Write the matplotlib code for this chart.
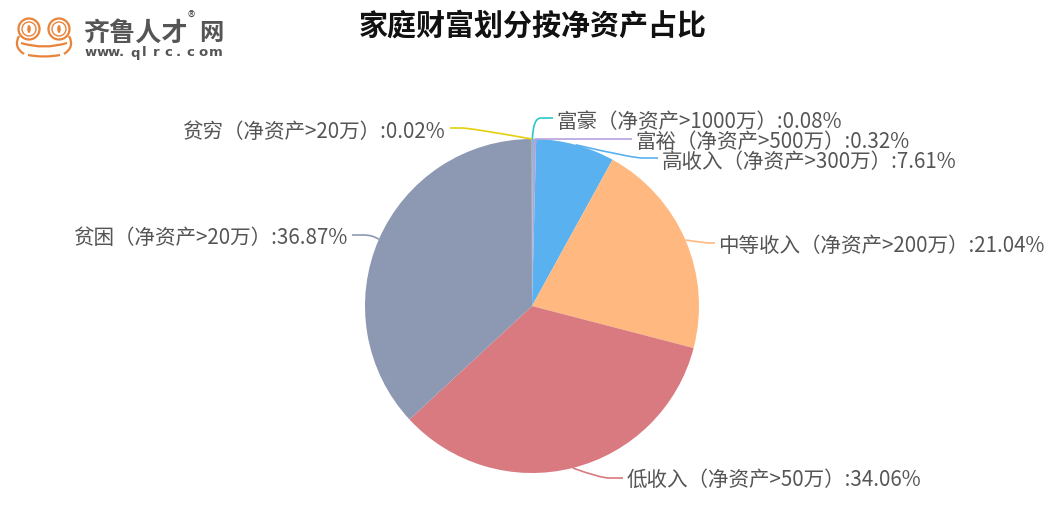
import numpy as np
import matplotlib
matplotlib.use('Agg')
import matplotlib.pyplot as plt
from matplotlib.patches import Circle, Ellipse, PathPatch
from matplotlib.path import Path

plt.rcParams['font.family'] = ['Noto Sans CJK SC', 'DejaVu Sans']

W, H = 1062, 522

# data, clockwise from 12 o'clock
labels = ['富豪（净资产>1000万）', '富裕（净资产>500万）', '高收入（净资产>300万）',
          '中等收入（净资产>200万）', '低收入（净资产>50万）', '贫困（净资产>20万）',
          '贫穷（净资产>20万）']
values = [0.08, 0.32, 7.61, 21.04, 34.06, 36.87, 0.02]
colors = ['#2EC7C9', '#B6A2DE', '#5AB1EF', '#FFB980', '#D87A80', '#8D98B3', '#E5CF0D']

# label text position (pixels, y down) and leader bend points
label_pos = [(556, 122, 'left'), (635, 142, 'left'), (662, 162, 'left'), (718, 246, 'left'),
             (627, 480, 'left'), (347, 238, 'right'), (445, 132, 'right')]
bends = [(533, 118), (600, 139), (632, 158), (705, 243), (600, 478), (372, 235), (470, 128)]
ends = [(553, 118), (632, 139), (658, 158), (715, 243), (623, 478), (352, 235), (450, 128)]

cx, cy, radius = 532, 306, 167

fig = plt.figure(figsize=(W / 100, H / 100), dpi=100, facecolor='white')
ax = fig.add_axes([0, 0, 1, 1])


def fy(y):
    return H - y


def curve(points, color, lw=1.2, z=3):
    (x0, y0), (x1, y1), (x2, y2) = points
    # straight run after the bend, corner smoothed
    mx = x1 + (x2 - x1) * 0.4
    my = y1 + (y2 - y1) * 0.4
    verts = [(x0, fy(y0)), (x1, fy(y1)), (mx, fy(my)), (x2, fy(y2))]
    codes = [Path.MOVETO, Path.CURVE3, Path.CURVE3, Path.LINETO]
    ax.add_patch(PathPatch(Path(verts, codes), fc='none', ec=color, lw=lw, zorder=z))


ax.pie(values, colors=colors, startangle=90, counterclock=False, center=(cx, fy(cy)),
       radius=radius, wedgeprops={'linewidth': 0, 'zorder': 2})
ax.set_xlim(0, W)
ax.set_ylim(0, H)
ax.set_aspect('equal')
ax.axis('off')

# leader lines and labels
total = sum(values)
start = 0
for name, val, col, pos, bend, end in zip(labels, values, colors, label_pos, bends, ends):
    mid = (start + val / 2) / total * 2 * np.pi
    start += val
    ax0 = cx + radius * np.sin(mid)
    ay0 = cy - radius * np.cos(mid)
    curve([(ax0, ay0), bend, end], col)
    ax.text(pos[0], fy(pos[1]), f'{name}:{val:.2f}%', ha=pos[2], va='center',
            fontsize=14.8, color='#555555', zorder=5)

ax.text(533, fy(26), '家庭财富划分按净资产占比', ha='center', va='center', fontsize=20.9,
        fontweight='bold', color='#111111')

# logo
orange = '#E8833A'
for ex in (29, 59):
    ax.add_patch(Circle((ex, fy(29)), 10.5, fc='white', ec=orange, lw=1.6, zorder=6))
    ax.add_patch(Circle((ex, fy(29)), 7, fc='white', ec=orange, lw=1.0, zorder=6))
    ax.add_patch(Ellipse((ex, fy(29)), 3.5, 8, fc=orange, ec='none', zorder=7))
head_left = Path([(19, fy(36)), (13, fy(47)), (24, fy(54))], [Path.MOVETO, Path.CURVE3, Path.CURVE3])
head_right = Path([(69, fy(36)), (75, fy(47)), (64, fy(54))], [Path.MOVETO, Path.CURVE3, Path.CURVE3])
chin = Path([(28, fy(55)), (44, fy(58)), (60, fy(55))], [Path.MOVETO, Path.CURVE3, Path.CURVE3])
smile = Path([(21, fy(43)), (44, fy(50)), (67, fy(43))], [Path.MOVETO, Path.CURVE3, Path.CURVE3])
for part in (head_left, head_right, chin, smile):
    ax.add_patch(PathPatch(part, fc='none', ec=orange, lw=1.6, zorder=6))
ax.text(83, fy(33), '齐鲁人才', ha='left', va='center', fontsize=18.8, fontweight='bold', color='#555555')
ax.text(188, fy(18), '®', ha='left', va='center', fontsize=11, color='#555555')
ax.text(199, fy(33), '网', ha='left', va='center', fontsize=17.5, fontweight='bold', color='#555555')
for i, ch in enumerate('www.qlrc.com'):
    ax.text(85 + i * 11.3, fy(53), ch, ha='left', va='center', fontsize=9.5, fontweight='bold',
            color='#555555', family='DejaVu Sans')

fig.savefig('out.png', dpi=100, facecolor='white')
